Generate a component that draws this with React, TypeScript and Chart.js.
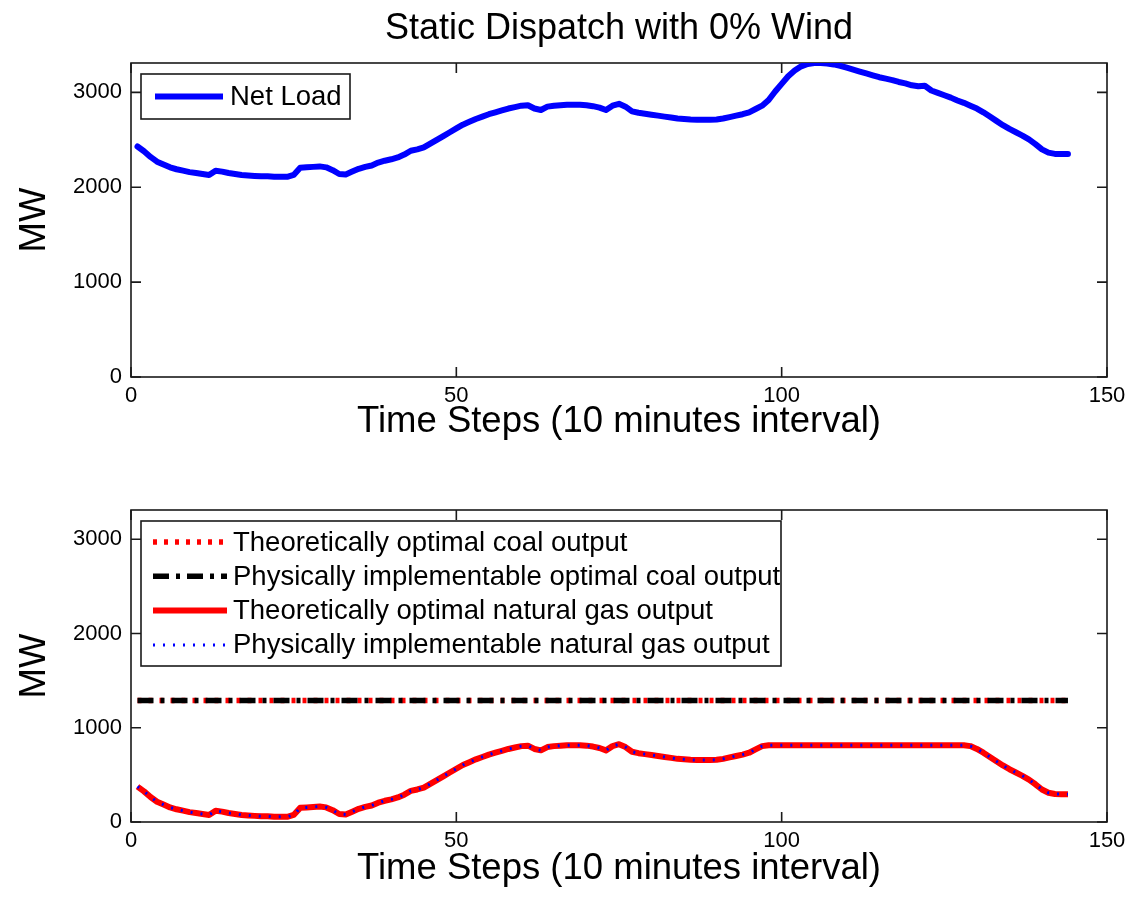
import React, { useEffect, useRef } from "react";
import { Chart, registerables } from "chart.js";

Chart.register(...registerables);

const chartTitle = "Static Dispatch with 0% Wind";
const xAxisTitle = "Time Steps (10 minutes interval)";
const yAxisTitle = "MW";
const xRange = { min: 0, max: 150 };
const yRange = { min: 0, max: 3310 };
const xTickValues = [0, 50, 100, 150];
const yTickValues = [0, 1000, 2000, 3000];

const timeSteps = Array.from({ length: 144 }, (_, i) => i + 1);

const netLoad = [
  2430, 2380, 2320, 2270, 2240, 2210, 2190, 2175, 2160, 2150,
  2140, 2130, 2175, 2165, 2150, 2140, 2130, 2125, 2120, 2115,
  2115, 2110, 2110, 2110, 2130, 2205, 2210, 2215, 2220, 2210,
  2180, 2140, 2135, 2165, 2195, 2215, 2230, 2260, 2280, 2295,
  2315, 2345, 2385, 2400, 2420, 2460, 2500, 2540, 2580, 2620,
  2660, 2690, 2720, 2745, 2770, 2790, 2810, 2830, 2845, 2860,
  2865, 2830, 2815, 2850, 2860, 2865, 2870, 2870, 2870, 2865,
  2855, 2840, 2815, 2860, 2880, 2850, 2800, 2785, 2775, 2765,
  2755, 2745, 2735, 2725, 2720, 2715, 2712, 2712, 2712, 2715,
  2725, 2740, 2755, 2770, 2790, 2825, 2860, 2920, 3010, 3090,
  3170, 3230, 3275, 3300, 3310, 3310, 3305, 3295, 3280, 3260,
  3240, 3220, 3200, 3180, 3160, 3145, 3130, 3110, 3095, 3075,
  3065, 3070, 3020, 2995, 2970, 2945, 2915, 2890, 2860, 2830,
  2790, 2745, 2700, 2655, 2615, 2580, 2545, 2505, 2455, 2400,
  2365, 2352, 2350, 2350,
];

const gasTheoretical = [
  375, 325, 265, 215, 185, 155, 135, 120, 105, 95,
  85, 75, 120, 110, 95, 85, 75, 70, 65, 60,
  60, 55, 55, 55, 75, 150, 155, 160, 165, 155,
  125, 85, 80, 110, 140, 160, 175, 205, 225, 240,
  260, 290, 330, 345, 365, 405, 445, 485, 525, 565,
  605, 635, 665, 690, 715, 735, 755, 775, 790, 805,
  810, 775, 760, 795, 805, 810, 815, 815, 815, 810,
  800, 785, 760, 805, 825, 795, 745, 730, 720, 710,
  700, 690, 680, 670, 665, 660, 657, 657, 657, 660,
  670, 685, 700, 715, 735, 770, 805, 815, 815, 815,
  815, 815, 815, 815, 815, 815, 815, 815, 815, 815,
  815, 815, 815, 815, 815, 815, 815, 815, 815, 815,
  815, 815, 815, 815, 815, 815, 815, 815, 805, 775,
  735, 690, 645, 600, 560, 525, 490, 450, 400, 345,
  310, 297, 295, 295,
];

const gasPhysical = [
  375, 325, 265, 215, 185, 155, 135, 120, 105, 95,
  85, 75, 120, 110, 95, 85, 75, 70, 65, 60,
  60, 55, 55, 55, 75, 150, 155, 160, 165, 155,
  125, 85, 80, 110, 140, 160, 175, 205, 225, 240,
  260, 290, 330, 345, 365, 405, 445, 485, 525, 565,
  605, 635, 665, 690, 715, 735, 755, 775, 790, 805,
  810, 775, 760, 795, 805, 810, 815, 815, 815, 810,
  800, 785, 760, 805, 825, 795, 745, 730, 720, 710,
  700, 690, 680, 670, 665, 660, 657, 657, 657, 660,
  670, 685, 700, 715, 735, 770, 805, 815, 815, 815,
  815, 815, 815, 815, 815, 815, 815, 815, 815, 815,
  815, 815, 815, 815, 815, 815, 815, 815, 815, 815,
  815, 815, 815, 815, 815, 815, 815, 815, 805, 775,
  735, 690, 645, 600, 560, 525, 490, 450, 400, 345,
  310, 297, 295, 295,
];

const coalTheoreticalMW = 1290;
const coalPhysicalMW = 1290;

const legendTop = ["Net Load"];
const legendBottom = [
  "Theoretically optimal coal output",
  "Physically implementable optimal coal output",
  "Theoretically optimal natural gas output",
  "Physically implementable natural gas output",
];

const FONT = "'Liberation Sans', Arial, Helvetica, sans-serif";
const W = 1134;
const H = 451;

const toXY = (vals: number[]) => vals.map((v, i) => ({ x: timeSteps[i], y: v }));
const constXY = (v: number) => timeSteps.map((t) => ({ x: t, y: v }));

const framePlugin = {
  id: "frame",
  beforeDatasetsDraw(chart: any) {
    const { ctx, chartArea: a, scales } = chart;
    ctx.save();
    ctx.strokeStyle = "#1a1a1a";
    ctx.lineWidth = 1.6;
    ctx.strokeRect(a.left, a.top, a.right - a.left, a.bottom - a.top);
    const L = 10;
    ctx.beginPath();
    scales.x.ticks.forEach((t: any) => {
      const p = scales.x.getPixelForValue(t.value);
      ctx.moveTo(p, a.bottom);
      ctx.lineTo(p, a.bottom - L);
      ctx.moveTo(p, a.top);
      ctx.lineTo(p, a.top + L);
    });
    scales.y.ticks.forEach((t: any) => {
      const p = scales.y.getPixelForValue(t.value);
      ctx.moveTo(a.left, p);
      ctx.lineTo(a.left + L, p);
      ctx.moveTo(a.right, p);
      ctx.lineTo(a.right - L, p);
    });
    ctx.stroke();
    ctx.restore();
  },
};

const boxLegendPlugin = {
  id: "boxLegend",
  afterDraw(chart: any, _args: any, opts: any) {
    if (!opts || !opts.labels) return;
    const { ctx, chartArea: a } = chart;
    const x0 = a.left + opts.dx;
    const y0 = a.top + opts.dy;
    ctx.save();
    ctx.fillStyle = "#fff";
    ctx.fillRect(x0, y0, opts.w, opts.h);
    ctx.strokeStyle = "#1a1a1a";
    ctx.lineWidth = 1.6;
    ctx.strokeRect(x0, y0, opts.w, opts.h);
    ctx.font = `${opts.fontSize}px ${FONT}`;
    ctx.textBaseline = "middle";
    ctx.textAlign = "left";
    opts.labels.forEach((label: string, i: number) => {
      const ds = chart.data.datasets[i];
      const y = y0 + opts.firstRow + i * opts.rowGap;
      ctx.save();
      ctx.strokeStyle = ds.borderColor;
      ctx.lineWidth = ds.borderWidth;
      ctx.setLineDash(ds.borderDash || []);
      ctx.lineCap = "butt";
      ctx.beginPath();
      ctx.moveTo(x0 + opts.s0, y);
      ctx.lineTo(x0 + opts.s1, y);
      ctx.stroke();
      ctx.restore();
      ctx.fillStyle = "#000";
      ctx.fillText(label, x0 + opts.tx, y + 1);
    });
    ctx.restore();
  },
};

const figTitlePlugin = {
  id: "figTitle",
  afterDraw(chart: any, _args: any, opts: any) {
    if (!opts || !opts.text) return;
    const { ctx, chartArea: a } = chart;
    ctx.save();
    ctx.font = `${opts.fontSize}px ${FONT}`;
    ctx.fillStyle = "#000";
    ctx.textAlign = "center";
    ctx.textBaseline = "middle";
    ctx.fillText(opts.text, (a.left + a.right) / 2, opts.y);
    ctx.restore();
  },
};

function makeOptions(padTop: number, xHeight: number, xTitlePadBottom: number, plugins: any) {
  return {
    responsive: false,
    animation: false,
    devicePixelRatio: 1,
    layout: { padding: { left: 0, right: 27, top: padTop, bottom: 0 } },
    elements: { point: { radius: 0 }, line: { tension: 0 } },
    plugins: {
      legend: { display: false },
      tooltip: { enabled: false },
      ...plugins,
    },
    scales: {
      x: {
        type: "linear",
        min: xRange.min,
        max: xRange.max,
        grid: { display: false, drawTicks: false },
        border: { display: false },
        afterBuildTicks: (s: any) => {
          s.ticks = xTickValues.map((v) => ({ value: v }));
        },
        ticks: {
          color: "#000",
          font: { size: 22, family: FONT },
          padding: 6,
          maxRotation: 0,
          autoSkip: false,
          callback: (v: any) => String(v),
        },
        title: {
          display: true,
          text: xAxisTitle,
          color: "#000",
          font: { size: 36.5, family: FONT },
          padding: { top: 0, bottom: xTitlePadBottom },
        },
        afterFit: (s: any) => {
          s.height = xHeight;
        },
      },
      y: {
        type: "linear",
        min: yRange.min,
        max: yRange.max,
        grid: { display: false, drawTicks: false },
        border: { display: false },
        afterBuildTicks: (s: any) => {
          s.ticks = yTickValues.map((v) => ({ value: v }));
        },
        ticks: {
          color: "#000",
          font: { size: 22, family: FONT },
          padding: 9,
          autoSkip: false,
          callback: (v: any) => String(v),
        },
        title: {
          display: true,
          text: yAxisTitle,
          color: "#000",
          font: { size: 36.5, family: FONT },
          padding: { top: 13, bottom: 0 },
        },
        afterFit: (s: any) => {
          s.width = 131;
        },
      },
    },
  };
}

export default function App() {
  const topRef = useRef<HTMLCanvasElement>(null);
  const botRef = useRef<HTMLCanvasElement>(null);

  useEffect(() => {
    const top = new Chart(topRef.current as HTMLCanvasElement, {
      type: "line",
      data: {
        datasets: [
          {
            label: legendTop[0],
            data: toXY(netLoad),
            borderColor: "#0000ff",
            borderWidth: 6,
            borderJoinStyle: "round",
            borderCapStyle: "round",
            fill: false,
          },
        ],
      },
      options: makeOptions(63, 74, 7, {
        figTitle: { text: chartTitle, fontSize: 36, y: 29 },
        boxLegend: {
          labels: legendTop,
          dx: 10,
          dy: 11,
          w: 209,
          h: 45,
          firstRow: 22.5,
          rowGap: 34,
          s0: 14,
          s1: 82,
          tx: 89,
          fontSize: 27.5,
        },
      }),
      plugins: [framePlugin, boxLegendPlugin, figTitlePlugin],
    } as any);

    const bot = new Chart(botRef.current as HTMLCanvasElement, {
      type: "line",
      data: {
        datasets: [
          {
            label: legendBottom[0],
            data: constXY(coalTheoreticalMW),
            borderColor: "#ff0000",
            borderWidth: 5.5,
            borderDash: [4, 7],
            order: 4,
            fill: false,
          },
          {
            label: legendBottom[1],
            data: constXY(coalPhysicalMW),
            borderColor: "#000000",
            borderWidth: 5.5,
            borderDash: [16, 7, 4, 7],
            order: 3,
            fill: false,
          },
          {
            label: legendBottom[2],
            data: toXY(gasTheoretical),
            borderColor: "#ff0000",
            borderWidth: 6,
            borderJoinStyle: "round",
            order: 2,
            fill: false,
          },
          {
            label: legendBottom[3],
            data: toXY(gasPhysical),
            borderColor: "#0000ff",
            borderWidth: 3,
            borderDash: [2, 8],
            order: 1,
            fill: false,
          },
        ],
      },
      options: makeOptions(59, 80, 11, {
        boxLegend: {
          labels: legendBottom,
          dx: 10,
          dy: 11,
          w: 640,
          h: 145,
          firstRow: 21,
          rowGap: 34.3,
          s0: 12,
          s1: 86,
          tx: 92,
          fontSize: 27.5,
        },
      }),
      plugins: [framePlugin, boxLegendPlugin],
    } as any);

    return () => {
      top.destroy();
      bot.destroy();
    };
  }, []);

  return (
    <div
      style={{
        position: "absolute",
        left: 0,
        top: 0,
        width: W,
        height: 2 * H,
        background: "#fff",
      }}
    >
      <canvas ref={topRef} width={W} height={H} style={{ display: "block", width: W, height: H }} />
      <canvas ref={botRef} width={W} height={H} style={{ display: "block", width: W, height: H }} />
    </div>
  );
}
